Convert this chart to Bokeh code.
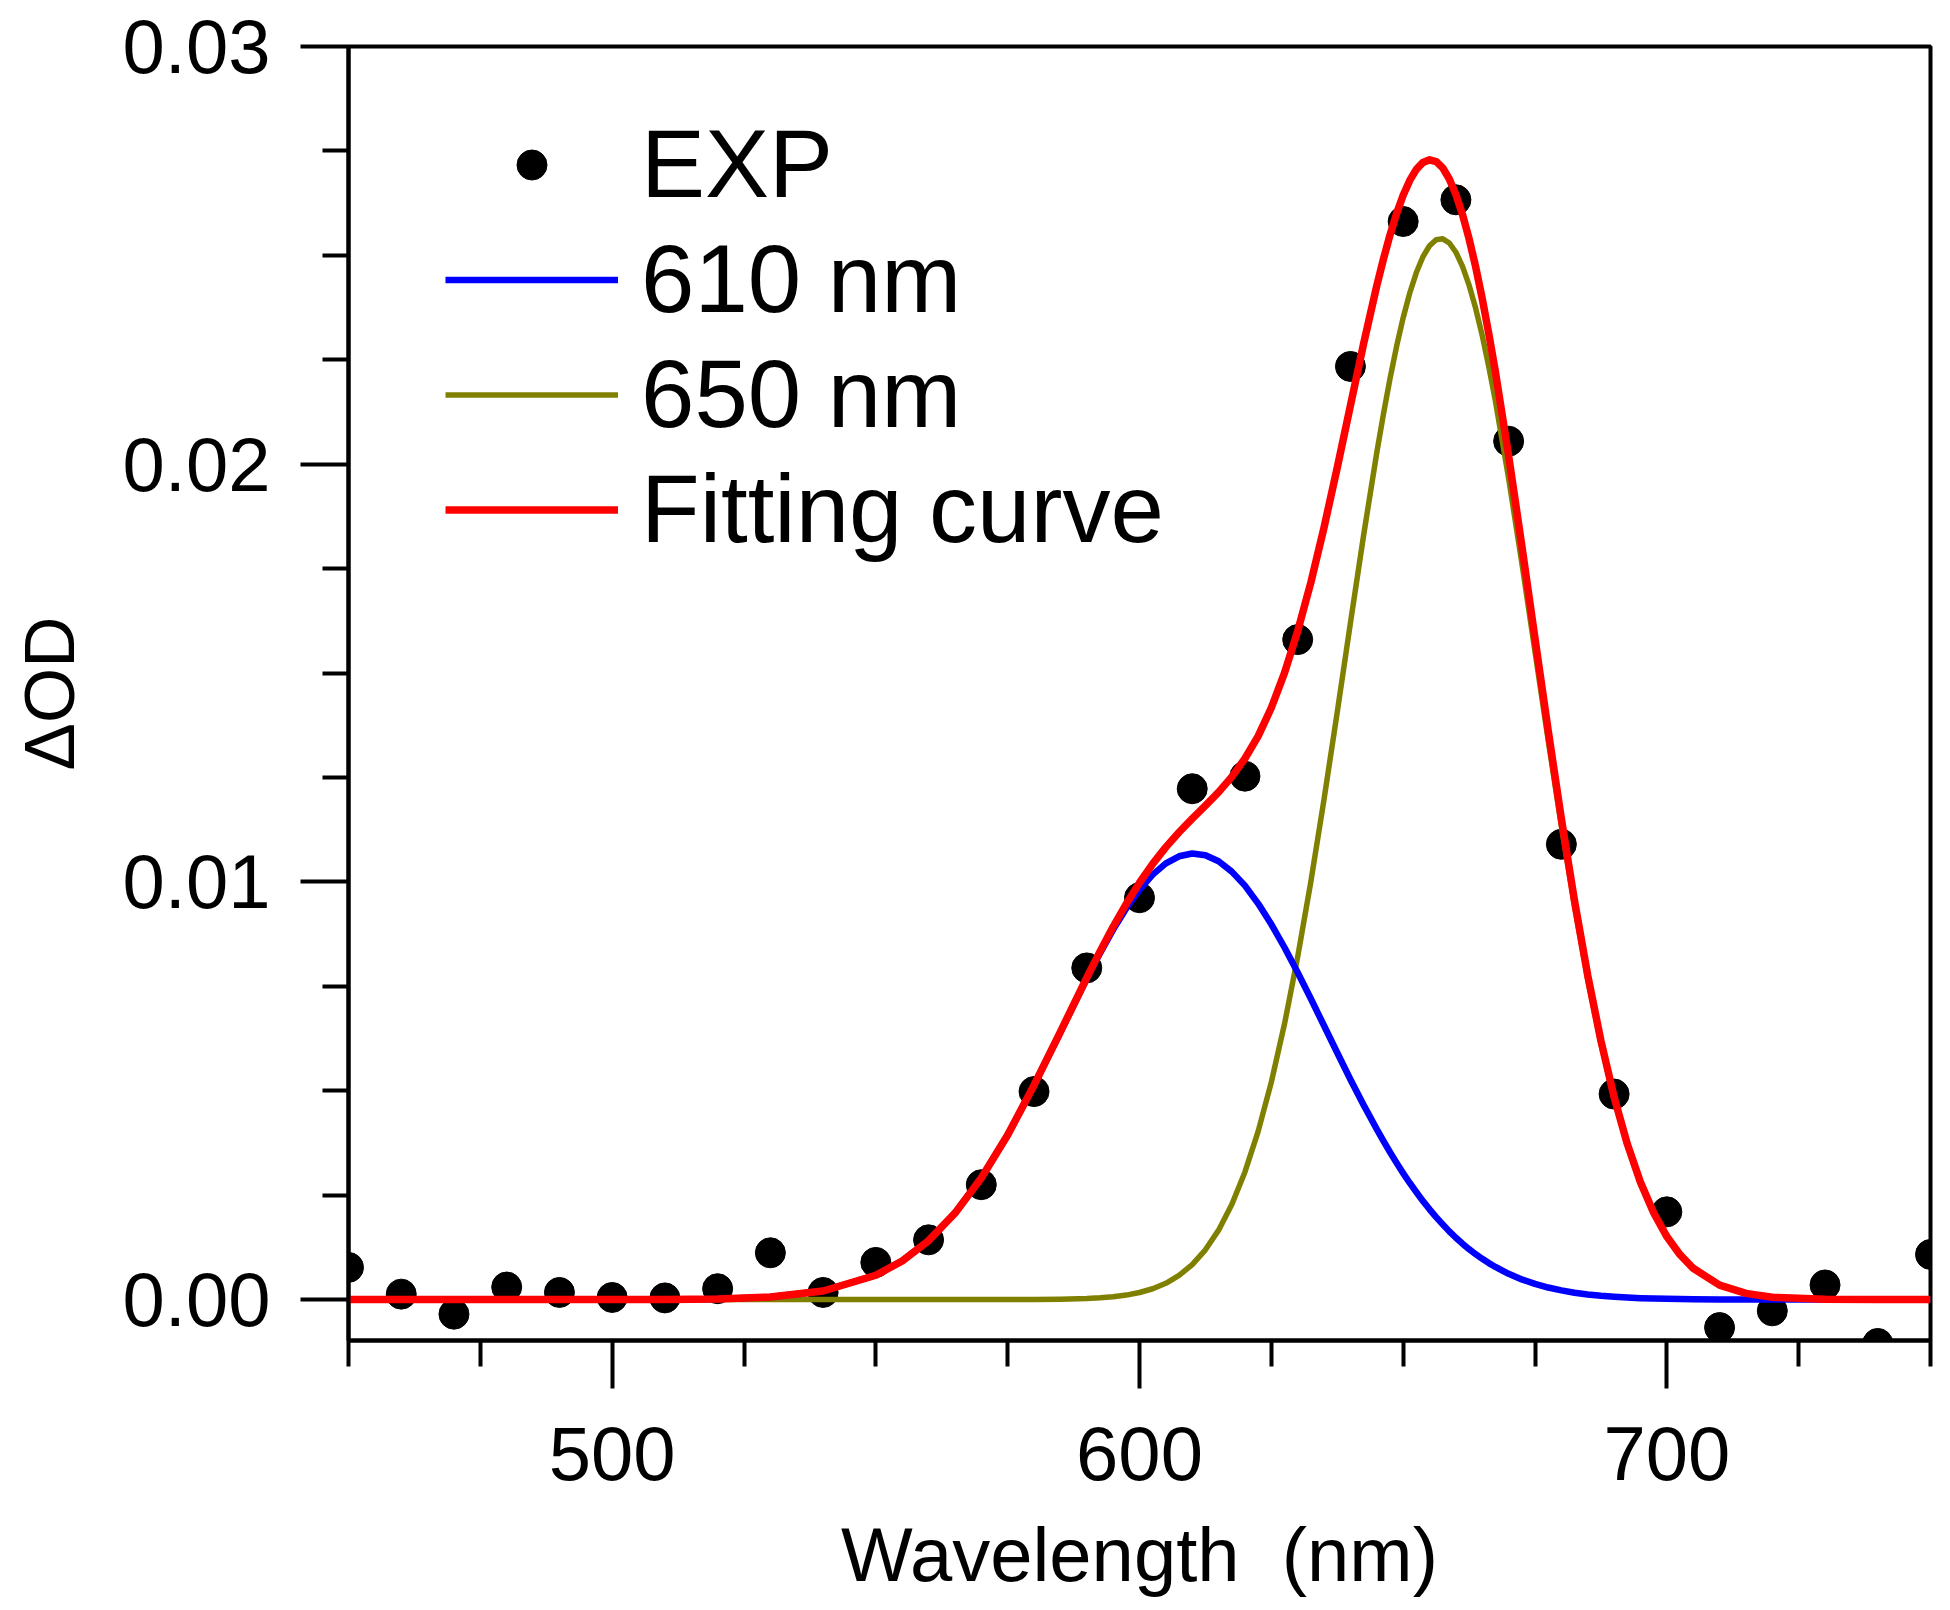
from bokeh.plotting import figure
from bokeh.models import Range1d, FixedTicker, PrintfTickFormatter, Legend, LegendItem
from bokeh.embed import file_html
from bokeh.resources import INLINE

# ---- data ----
wavelength_exp = [450, 460, 470, 480, 490, 500, 510, 520, 530, 540, 550, 560, 570, 580, 590,
                  600, 610, 620, 630, 640, 650, 660, 670, 680, 690, 700, 710, 720, 730, 740, 750]
delta_od_exp = [0.00077, 0.00013, -0.00035, 0.00030, 0.00017, 0.00005, 0.00004, 0.00026, 0.00112,
                0.00017, 0.00089, 0.00143, 0.00275, 0.00498, 0.00794, 0.00962, 0.01223, 0.01253,
                0.01580, 0.02234, 0.02581, 0.02633, 0.02055, 0.01090, 0.00492, 0.00210, -0.00067,
                -0.00027, 0.00035, -0.00105, 0.00108]

wavelength_fit = [450, 460, 470, 480, 490, 500, 510, 520, 530, 540, 550,
                  555, 560, 565, 570, 575, 580, 585, 590,
                  592.5, 595, 597.5, 600, 602.5, 605, 607.5, 610, 612.5, 615, 617.5, 620, 622.5,
                  625, 627.5, 630, 632.5, 635, 637.5, 640, 642.5, 645,
                  646.25, 647.5, 648.75, 650, 651.25, 652.5, 653.75, 655, 656.25, 657.5, 658.75,
                  660, 661.25, 662.5, 663.75, 665, 666.25, 667.5,
                  670, 672.5, 675, 677.5, 680, 682.5, 685, 687.5, 690, 692.5, 695, 697.5, 700,
                  702.5, 705,
                  710, 715, 720, 730, 740, 750]
band_610 = [0.0, 0.0, 0.0, 0.0, 0.0, 0.0, 0.0000034, 0.0000157, 0.0000614, 0.000205, 0.000582,
            0.000925, 0.00141, 0.002068, 0.00291, 0.00394, 0.00513, 0.0064, 0.00768,
            0.008289, 0.008856, 0.009369, 0.009811, 0.010173, 0.010443, 0.010613, 0.01068,
            0.010639, 0.010493, 0.010246, 0.00991, 0.009481, 0.008984, 0.008429, 0.00783,
            0.0072, 0.006555, 0.00591, 0.00527, 0.00466, 0.004076,
            0.003798, 0.00353, 0.003273, 0.003027, 0.002792, 0.00257, 0.002358, 0.00216,
            0.001973, 0.0018, 0.001633, 0.00148, 0.001338, 0.001207, 0.001086, 0.000975,
            0.000873, 0.00078,
            0.000617, 0.000483, 0.000375, 0.000288, 0.000219, 0.000165, 0.000123, 0.0000908,
            0.000066, 0.000048, 0.0000344, 0.0000244, 0.0000171, 0.0000119, 0.0000082,
            0.0000038, 0.0000015, 0.0, 0.0, 0.0, 0.0]
band_650 = [0.0, 0.0, 0.0, 0.0, 0.0, 0.0, 0.0, 0.0, 0.0, 0.0, 0.0,
            0.0, 0.0, 0.0, 0.0, 0.0, 0.0000027, 0.0000085, 0.0000249,
            0.0000414, 0.0000673, 0.000107, 0.000169, 0.000259, 0.00039, 0.000577, 0.000837,
            0.001191, 0.001662, 0.002276, 0.003056, 0.004026, 0.005205, 0.006599, 0.008207,
            0.01001, 0.011982, 0.014065, 0.016199, 0.018299, 0.020281,
            0.021192, 0.022043, 0.022818, 0.023507, 0.024098, 0.024588, 0.024967, 0.025229,
            0.025373, 0.025395, 0.025295, 0.025074, 0.024737, 0.024286, 0.023731, 0.023077,
            0.022331, 0.021508,
            0.019663, 0.017636, 0.015515, 0.013389, 0.011336, 0.009414, 0.007669, 0.006129,
            0.004803, 0.003694, 0.002786, 0.002062, 0.001497, 0.001066, 0.000744,
            0.000343, 0.000147, 0.0000576, 0.0000071, 0.0, 0.0]
fitting_curve = [0.0, 0.0, 0.0, 0.0, 0.0, 0.0, 0.0000034, 0.0000157, 0.0000614, 0.000205, 0.000582,
                 0.000925, 0.00141, 0.002068, 0.00291, 0.00394, 0.005133, 0.006409, 0.007705,
                 0.00833, 0.008923, 0.009476, 0.009979, 0.010431, 0.010832, 0.011188, 0.011514,
                 0.011825, 0.012148, 0.012513, 0.012954, 0.013491, 0.014168, 0.015002, 0.016004,
                 0.01717, 0.018489, 0.019919, 0.021404, 0.022886, 0.024276,
                 0.024906, 0.025485, 0.026, 0.02644, 0.026794, 0.02706, 0.027225, 0.027288,
                 0.027245, 0.027094, 0.026827, 0.026454, 0.025976, 0.025396, 0.024722, 0.02396,
                 0.023115, 0.022202,
                 0.020202, 0.018049, 0.015828, 0.013624, 0.01151, 0.009541, 0.007761, 0.006196,
                 0.00485, 0.003727, 0.002809, 0.002078, 0.001508, 0.001074, 0.000749,
                 0.000346, 0.000148, 0.0000574, 0.0000071, 0.0, 0.0]

x_major = [500, 600, 700]
x_minor = [450, 475, 525, 550, 575, 625, 650, 675, 725, 750]
y_major = [0.0, 0.01, 0.02, 0.03]
y_minor = [0.0025, 0.005, 0.0075, 0.0125, 0.015, 0.0175, 0.0225, 0.025, 0.0275]

FONT = "Liberation Sans"

p = figure(width=1946, height=1606, x_range=Range1d(450, 750), y_range=Range1d(-0.00098, 0.03),
           output_backend="svg", toolbar_location=None,
           min_border_left=348, min_border_right=16, min_border_top=46, min_border_bottom=266,
           x_axis_label="Wavelength\u00a0 (nm)", y_axis_label="ΔOD")
p.xgrid.visible = False
p.ygrid.visible = False
p.background_fill_color = "white"
p.border_fill_color = "white"
p.outline_line_color = "black"
p.outline_line_width = 4
p.outline_line_alpha = 1.0

r_exp = p.scatter(wavelength_exp, delta_od_exp, size=30, fill_color="black", line_color="black")
r_650 = p.line(wavelength_fit, band_650, line_color="#808000", line_width=5.5, line_join="round")
r_610 = p.line(wavelength_fit, band_610, line_color="#0000FF", line_width=6.5, line_join="round")
r_fit = p.line(wavelength_fit, fitting_curve, line_color="#FF0000", line_width=7.5, line_join="round")

p.xaxis.ticker = FixedTicker(ticks=x_major, minor_ticks=x_minor)
p.yaxis.ticker = FixedTicker(ticks=y_major, minor_ticks=y_minor)
p.yaxis.formatter = PrintfTickFormatter(format="%.2f")

for ax in (p.xaxis[0], p.yaxis[0]):
    ax.axis_line_width = 4
    ax.axis_line_color = "black"
    ax.major_tick_line_width = 4
    ax.minor_tick_line_width = 4
    ax.major_tick_line_color = "black"
    ax.minor_tick_line_color = "black"
    ax.major_tick_out = 48
    ax.major_tick_in = 0
    ax.minor_tick_out = 26
    ax.minor_tick_in = 0
    ax.major_label_text_font = FONT
    ax.major_label_text_font_size = "76px"
    ax.major_label_text_color = "black"
    ax.axis_label_text_font = FONT
    ax.axis_label_text_font_size = "76px"
    ax.axis_label_text_font_style = "normal"
    ax.axis_label_text_color = "black"

p.yaxis.axis_label_text_font_size = "71px"
p.xaxis.major_label_standoff = 38
p.xaxis.axis_label_standoff = 29
p.yaxis.major_label_standoff = 30
p.yaxis.axis_label_standoff = 31

legend = Legend(items=[LegendItem(label="EXP", renderers=[r_exp]),
                       LegendItem(label="610 nm", renderers=[r_610]),
                       LegendItem(label="650 nm", renderers=[r_650]),
                       LegendItem(label="Fitting curve", renderers=[r_fit])],
                location=(97, 775))
legend.border_line_alpha = 0
legend.background_fill_alpha = 0
legend.label_text_font = FONT
legend.label_text_font_size = "96px"
legend.label_text_color = "black"
legend.glyph_width = 173
legend.glyph_height = 75
legend.label_height = 112
legend.label_standoff = 23
legend.spacing = 3
legend.padding = 0
legend.margin = 0
p.add_layout(legend)

open("out.html", "w").write(file_html(p, INLINE))
